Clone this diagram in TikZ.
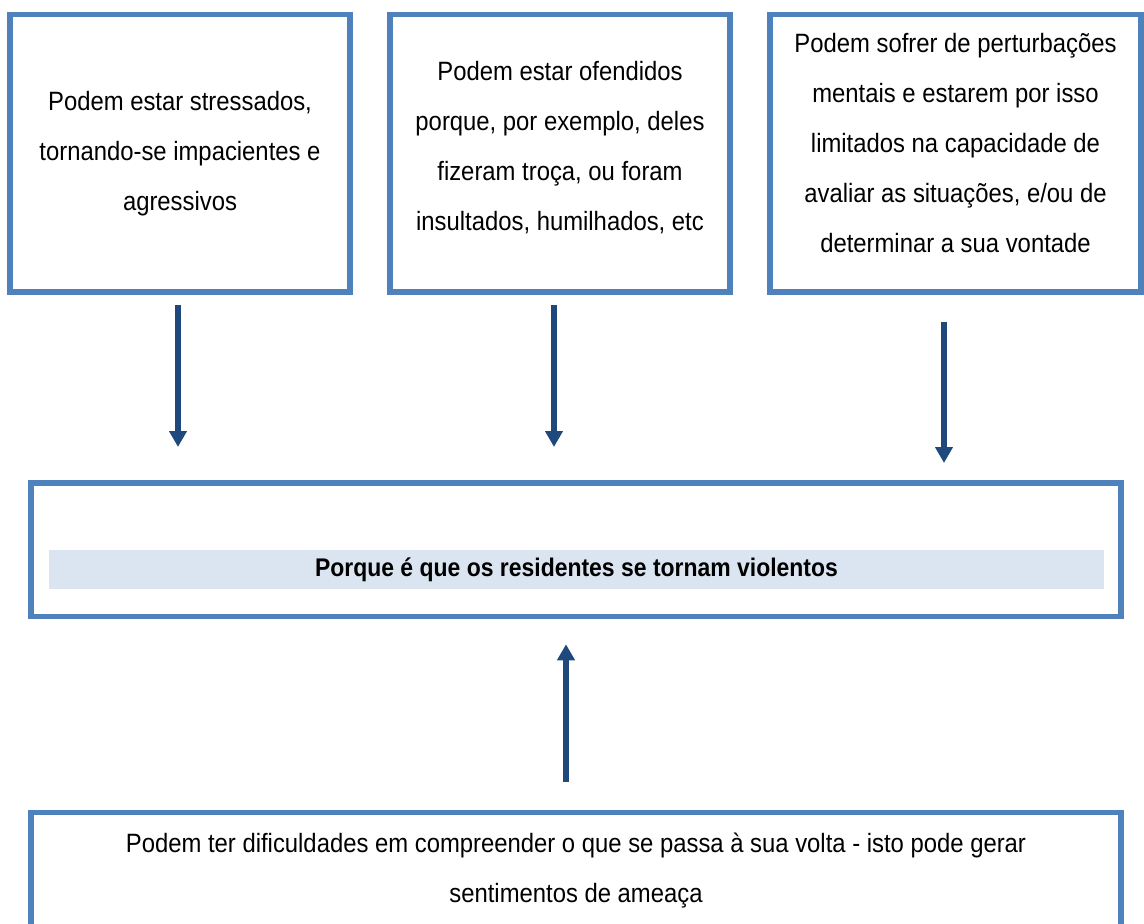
\documentclass[tikz,border=0pt]{standalone}
\usepackage{fontspec}
\setmainfont{Liberation Sans}[FakeStretch=0.9]
\usetikzlibrary{arrows.meta}
\definecolor{boxblue}{HTML}{4F81BD}
\definecolor{arrowblue}{HTML}{1F497D}
\definecolor{barblue}{HTML}{DBE5F1}
\tikzset{
  causebox/.style={draw=boxblue, line width=5.5pt, fill=white, align=center, inner sep=0pt,
    font=\fontsize{26.5}{50}\selectfont},
  flow/.style={draw=arrowblue, line width=5.5pt, -{Triangle[width=17pt,length=16pt]}}
}
\begin{document}
\begin{tikzpicture}
\useasboundingbox (0pt,0pt) rectangle (1144pt,-924pt);
\clip (0pt,0pt) rectangle (1144pt,-924pt);
\node[causebox, minimum width=340pt, minimum height=277.5pt] (stress) at (180pt,-153.25pt)
  {Podem estar stressados,\\tornando-se impacientes e\\agressivos};
\node[causebox, minimum width=340pt, minimum height=277.5pt, text depth=15.5pt] (ofensa) at (560pt,-153.25pt)
  {Podem estar ofendidos\\porque, por exemplo, deles\\fizeram troça, ou foram\\insultados, humilhados, etc};
\node[causebox, minimum width=371pt, minimum height=277.5pt, text depth=21pt] (mental) at (955.5pt,-153.25pt)
  {Podem sofrer de perturbações\\mentais e estarem por isso\\limitados na capacidade de\\avaliar as situações, e/ou de\\determinar a sua vontade};
\node[causebox, minimum width=1090pt, minimum height=133.5pt] (porque) at (576pt,-549.75pt) {};
\node[fill=barblue, minimum width=1055pt, minimum height=39pt, inner sep=0pt,
  font=\fontsize{25.5}{50}\selectfont\bfseries] (titulo) at (576.5pt,-569.5pt)
  {Porque é que os residentes se tornam violentos};
\node[causebox, minimum width=1090pt, minimum height=127.5pt, text depth=17.5pt] (ameaca) at (576pt,-876.25pt)
  {Podem ter dificuldades em compreender o que se passa à sua volta - isto pode gerar\\sentimentos de ameaça};
\draw[flow, shorten >=33.25pt] ([xshift=-2pt,yshift=-10pt]stress.south) -- ([xshift=-2pt]stress.south |- porque.north);
\draw[flow, shorten >=33.25pt] ([xshift=-6pt,yshift=-10pt]ofensa.south) -- ([xshift=-6pt]ofensa.south |- porque.north);
\draw[flow, shorten >=17.25pt] ([xshift=-11.5pt,yshift=-27pt]mental.south) -- ([xshift=-11.5pt]mental.south |- porque.north);
\draw[flow, shorten >=25pt] ([xshift=-10pt,yshift=28pt]ameaca.north) -- ([xshift=-10pt]ameaca.north |- porque.south);
\end{tikzpicture}
\end{document}
